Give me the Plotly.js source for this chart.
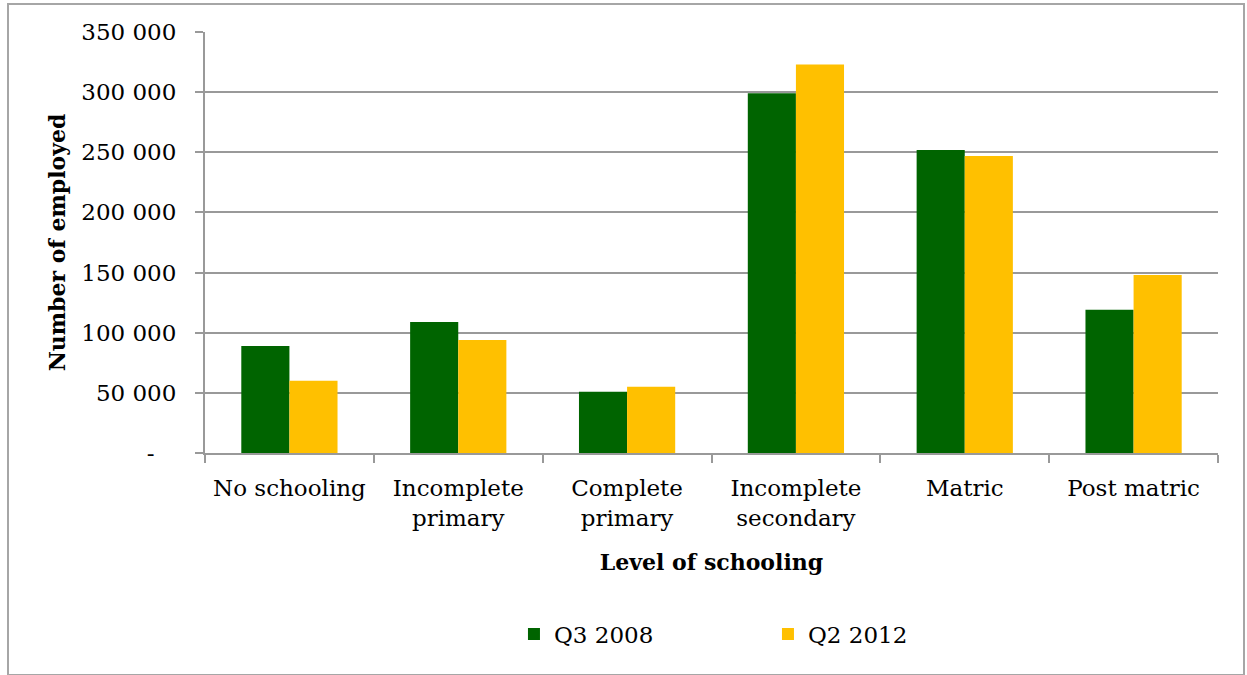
<!DOCTYPE html>
<html>
<head>
<meta charset="utf-8">
<script src="https://cdn.plot.ly/plotly-3.0.1.min.js"></script>
<style>
  html, body { margin: 0; padding: 0; background: #ffffff; }
  #wrap { position: relative; width: 1247px; height: 675px; }
  #chart { width: 1247px; height: 675px; }
  #frame { position: absolute; left: 7px; top: 3px; width: 1234px; height: 669px; border: 2px solid #a6a6a6; pointer-events: none; }
</style>
</head>
<body>
<div id="wrap">
  <div id="chart"></div>
  <div id="frame"></div>
</div>
<script>
const categories = ["No schooling", "Incomplete<br>primary", "Complete<br>primary", "Incomplete<br>secondary", "Matric", "Post matric"];
const seriesNames = ["Q3 2008", "Q2 2012"];
const q3_2008 = [89000, 109000, 51000, 299000, 252000, 119000];
const q2_2012 = [60000, 94000, 55000, 323000, 247000, 148000];
const yTickVals = [0, 50000, 100000, 150000, 200000, 250000, 300000, 350000];
const yTickText = ["-\u00a0\u00a0\u00a0", "50 000", "100 000", "150 000", "200 000", "250 000", "300 000", "350 000"];

const FONT = "DejaVu Serif, Liberation Serif, serif";

const traces = [
  { type: "bar", name: seriesNames[0], x: categories, y: q3_2008, marker: { color: "#006400" } },
  { type: "bar", name: seriesNames[1], x: categories, y: q2_2012, marker: { color: "#FFC000" } }
];

const layout = {
  width: 1247, height: 675,
  margin: { l: 205, r: 29, t: 32, b: 222 },
  paper_bgcolor: "#ffffff", plot_bgcolor: "#ffffff",
  barmode: "group", bargap: 0.43, bargroupgap: 0,
  font: { family: FONT, size: 23, color: "#000000" },
  showlegend: true,
  legend: {
    orientation: "h", x: 0.305, xanchor: "left", y: -0.43, yanchor: "middle",
    font: { family: FONT, size: 23, color: "#000000" },
    entrywidth: 209, traceorder: "normal"
  },
  xaxis: {
    type: "category",
    showline: true, linecolor: "#999999", linewidth: 2,
    ticks: "outside", tickson: "boundaries", ticklen: 8, tickcolor: "#999999", tickwidth: 2,
    ticklabelstandoff: 13,
    showgrid: false, zeroline: false,
    tickfont: { family: FONT, size: 23, color: "#000000" },
    title: { text: "<b>Level of schooling</b>", font: { family: FONT, size: 22, color: "#000000" }, standoff: 25 }
  },
  yaxis: {
    range: [0, 350000],
    tickvals: yTickVals, ticktext: yTickText,
    showline: true, linecolor: "#999999", linewidth: 2,
    ticks: "outside", ticklen: 8, tickcolor: "#999999", tickwidth: 2,
    ticklabelstandoff: 14,
    showgrid: true, gridcolor: "#999999", gridwidth: 2,
    zeroline: false,
    tickfont: { family: FONT, size: 23, color: "#000000" },
    title: { text: "<b>Number of employed</b>", font: { family: FONT, size: 22, color: "#000000" }, standoff: 10 }
  }
};

Plotly.newPlot("chart", traces, layout, { displayModeBar: false, staticPlot: true });
</script>
</body>
</html>
